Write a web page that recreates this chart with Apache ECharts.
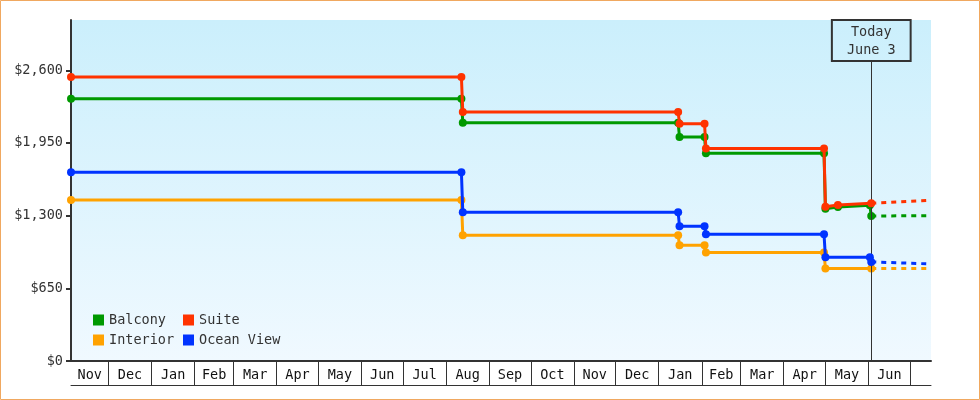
<!DOCTYPE html>
<html><head><meta charset="utf-8">
<script src="https://cdn.jsdelivr.net/npm/echarts@6/dist/echarts.min.js"></script>
<style>html,body{margin:0;padding:0;background:#fff}#c{width:980px;height:400px}</style>
</head><body><div id="c"></div>
<script>
// ---- data ----
const seriesNames = ['Balcony', 'Interior', 'Suite', 'Ocean View'];
const seriesColors = ['#009900', '#ffa200', '#ff3300', '#0033ff'];

const balconyDates  = ['2012-11-04','2013-08-12','2013-08-13','2014-01-15','2014-01-16','2014-02-03','2014-02-04','2014-04-30','2014-05-01','2014-05-10','2014-06-02','2014-06-03'];
const balconyPrices = [2345, 2345, 2131, 2130, 2003, 2003, 1859, 1859, 1362, 1378, 1393, 1297];

const interiorDates  = ['2012-11-04','2013-08-12','2013-08-13','2014-01-15','2014-01-16','2014-02-03','2014-02-04','2014-04-30','2014-05-01','2014-06-03'];
const interiorPrices = [1441, 1441, 1124, 1124, 1035, 1035, 970, 970, 828, 828];

const suiteDates  = ['2012-11-04','2013-08-12','2013-08-13','2014-01-15','2014-01-16','2014-02-03','2014-02-04','2014-04-30','2014-05-01','2014-05-10','2014-06-03'];
const suitePrices = [2540, 2540, 2227, 2227, 2122, 2122, 1901, 1901, 1380, 1396, 1411];

const oceanDates  = ['2012-11-04','2013-08-12','2013-08-13','2014-01-15','2014-01-16','2014-02-03','2014-02-04','2014-04-30','2014-05-01','2014-06-02','2014-06-03'];
const oceanPrices = [1689, 1689, 1330, 1330, 1205, 1205, 1133, 1133, 929, 929, 886];

// projected prices (dashed)
const forecastDates = ['2014-06-03', '2014-07-16'];
const balconyForecast  = [1297, 1300];
const interiorForecast = [828, 828];
const suiteForecast    = [1411, 1437];
const oceanForecast    = [886, 868];

const xMinDate = '2012-11-04';
const xMaxDate = '2014-07-16';
const todayDate = '2014-06-03';
const todayLabel = 'Today\nJune 3';

const monthLabels = ['Nov','Dec','Jan','Feb','Mar','Apr','May','Jun','Jul','Aug','Sep','Oct','Nov','Dec','Jan','Feb','Mar','Apr','May','Jun'];
const firstLabelMonth = '2012-11-01';
const yTicks = [0, 650, 1300, 1950, 2600];
const yMax = 3050;

// ---- helpers ----
function ts(s) { const p = s.split('-').map(Number); return Date.UTC(p[0], p[1] - 1, p[2]); }
function pairs(dates, vals) { return dates.map((d, i) => [ts(d), vals[i]]); }

const xMin = ts(xMinDate), xMax = ts(xMaxDate), today = ts(todayDate);

// month boundaries and label positions (center of visible part of each labelled month)
const f0 = firstLabelMonth.split('-').map(Number);
const monthStarts = [];
for (let i = 0; i <= monthLabels.length + 1; i++) {
  monthStarts.push(Date.UTC(f0[0], f0[1] - 1 + i, 1));
}
const tickValues = monthStarts.filter(t => t > xMin && t < xMax);
const labelValues = [];
const labelMap = {};
for (let i = 0; i < monthLabels.length; i++) {
  const a = Math.max(monthStarts[i], xMin), b = Math.min(monthStarts[i + 1], xMax);
  const mid = Math.round((a + b) / 2);
  labelValues.push(mid);
  labelMap[mid] = monthLabels[i];
}

const FONT = 'DejaVu Sans Mono';
const FS = 13.5;
const TXT = '#333333';

const mainData = [
  pairs(balconyDates, balconyPrices),
  pairs(interiorDates, interiorPrices),
  pairs(suiteDates, suitePrices),
  pairs(oceanDates, oceanPrices)
];
const fcData = [
  pairs(forecastDates, balconyForecast),
  pairs(forecastDates, interiorForecast),
  pairs(forecastDates, suiteForecast),
  pairs(forecastDates, oceanForecast)
];

const series = [];
seriesNames.forEach((name, i) => {
  series.push({
    name: name, type: 'line', data: mainData[i], xAxisIndex: 0,
    color: seriesColors[i],
    symbol: 'circle', symbolSize: 8, showSymbol: true,
    lineStyle: { width: 3, color: seriesColors[i] },
    itemStyle: { color: seriesColors[i] },
    emphasis: { disabled: true }, silent: true, z: 3 + i
  });
});
seriesNames.forEach((name, i) => {
  series.push({
    name: name, type: 'line', data: fcData[i], xAxisIndex: 0,
    color: seriesColors[i],
    showSymbol: false, symbol: 'none',
    lineStyle: { width: 3, color: seriesColors[i], type: [5, 5] },
    emphasis: { disabled: true }, silent: true, z: 3 + i
  });
});

// Today marker
const lineTop = yMax * (1 - 41 / 341);
series[0].markLine = {
  silent: true, symbol: ['none', 'none'], animation: false,
  lineStyle: { color: '#333', width: 1, type: 'solid' },
  label: {
    show: true, position: 'end', distance: 0, formatter: todayLabel,
    fontFamily: FONT, fontSize: FS, color: TXT, lineHeight: 18,
    borderColor: '#333', borderWidth: 1, padding: [3, 15, 2, 15],
    backgroundColor: 'rgba(0,0,0,0)', align: 'center'
  },
  emphasis: { disabled: true },
  data: [[{ coord: [today, 0] }, { coord: [today, lineTop] }]]
};

const legendCommon = {
  orient: 'vertical', top: 313, itemWidth: 11, itemHeight: 11, itemGap: 6,
  icon: 'rect', selectedMode: false, padding: 0,
  textStyle: { fontFamily: FONT, fontSize: FS, color: TXT, lineHeight: 14 }
};

const option = {
  animation: false,
  grid: {
    left: 71, right: 49, top: 20, bottom: 39, show: true, borderWidth: 0,
    backgroundColor: new echarts.graphic.LinearGradient(0, 0, 0, 1, [
      { offset: 0, color: '#cbeffc' }, { offset: 1, color: '#f0f9ff' }
    ])
  },
  legend: [
    Object.assign({ data: ['Balcony', 'Interior'], left: 93 }, legendCommon),
    Object.assign({ data: ['Suite', 'Ocean View'], left: 183 }, legendCommon)
  ],
  xAxis: [
    {
      type: 'value', min: xMin, max: xMax, position: 'bottom', scale: true,
      axisLine: { show: true, onZero: false, lineStyle: { color: '#333', width: 2 } },
      axisTick: { show: true, customValues: tickValues, length: 24, lineStyle: { color: '#333', width: 1 } },
      axisLabel: {
        show: true, customValues: labelValues, margin: 7,
        fontFamily: FONT, fontSize: FS, color: '#111',
        formatter: v => labelMap[v] || ''
      },
      splitLine: { show: false }
    },
    {
      type: 'value', min: xMin, max: xMax, position: 'bottom', offset: 24, scale: true,
      axisLine: { show: true, onZero: false, lineStyle: { color: '#333', width: 1 } },
      axisTick: { show: false }, axisLabel: { show: false }, splitLine: { show: false }
    }
  ],
  yAxis: {
    type: 'value', min: 0, max: yMax,
    axisLine: { show: true, lineStyle: { color: '#333', width: 2 } },
    axisTick: { show: true, customValues: yTicks, length: 5, lineStyle: { color: '#333', width: 2 } },
    axisLabel: {
      show: true, customValues: yTicks, margin: 8,
      fontFamily: FONT, fontSize: FS, color: TXT,
      formatter: v => '$' + Number(v).toLocaleString('en-US')
    },
    splitLine: { show: false }
  },
  graphic: [{
    type: 'rect', silent: true, z: 100,
    shape: { x: 0.5, y: 0.5, width: 979, height: 399 },
    style: { fill: 'none', stroke: '#f0a860', lineWidth: 1 }
  }],
  series: series
};

const chart = echarts.init(document.getElementById('c'));
chart.setOption(option);
</script>
</body></html>
